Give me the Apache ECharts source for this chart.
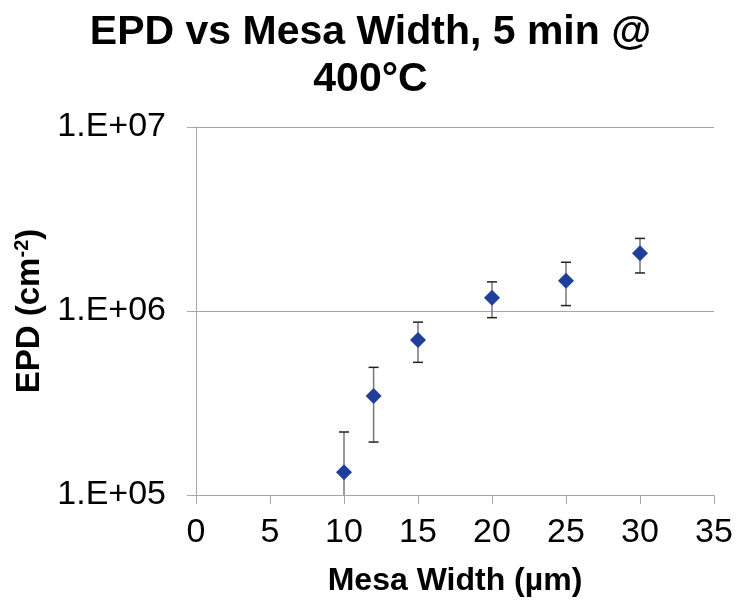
<!DOCTYPE html>
<html>
<head>
<meta charset="utf-8">
<script src="https://cdn.jsdelivr.net/npm/echarts@6/dist/echarts.min.js"></script>
<style>html,body{margin:0;padding:0;background:#fff}#c{width:741px;height:604px}</style>
</head>
<body>
<div id="c"></div>
<script>
const widths = [10, 12, 15, 20, 25, 30];
const epd = [1.33e5, 3.45e5, 6.95e5, 1.18e6, 1.46e6, 2.06e6];
const errLow = [4.6e4, 1.94e5, 5.26e5, 9.2e5, 1.07e6, 1.61e6];
const errHigh = [2.2e5, 4.94e5, 8.7e5, 1.44e6, 1.84e6, 2.48e6];
const xTicks = [0, 5, 10, 15, 20, 25, 30, 35];

const font = 'Liberation Sans, Arial, sans-serif';
const chart = echarts.init(document.getElementById('c'));
const errData = widths.map((w, i) => [w, errLow[i], errHigh[i]]);
const pts = widths.map((w, i) => [w, epd[i]]);

chart.setOption({
  animation: false,
  backgroundColor: '#fff',
  title: {
    text: 'EPD vs Mesa Width, 5 min @\n400°C',
    left: 'center', top: 4,
    textStyle: { fontFamily: font, fontSize: 41, fontWeight: 'bold', color: '#000', lineHeight: 47 }
  },
  grid: { left: 196, right: 27, top: 127, bottom: 109, containLabel: false },
  xAxis: {
    type: 'value', min: xTicks[0], max: xTicks[xTicks.length - 1], interval: 5,
    name: 'Mesa Width (µm)', nameLocation: 'middle', nameGap: 70,
    nameTextStyle: { fontFamily: font, fontSize: 32, fontWeight: 'bold', color: '#000' },
    axisLine: { show: true, lineStyle: { color: '#a6a6a6', width: 1 } },
    axisTick: { show: true, inside: false, length: 9, lineStyle: { color: '#a6a6a6' } },
    axisLabel: { fontFamily: font, fontSize: 34, color: '#000', margin: 21 },
    splitLine: { show: false }
  },
  yAxis: {
    type: 'log', logBase: 10, min: 1e5, max: 1e7,
    name: '{a|EPD (cm}{b|-2}{a|)}', nameLocation: 'middle', nameGap: 148,
    nameTextStyle: {
      rich: {
        a: { fontFamily: font, fontSize: 33, fontWeight: 'bold', color: '#000' },
        b: { fontFamily: font, fontSize: 20, fontWeight: 'bold', color: '#000', verticalAlign: 'top', padding: [0, 0, 14, 0] }
      }
    },
    axisLine: { show: true, lineStyle: { color: '#a6a6a6', width: 1 } },
    axisTick: { show: true, inside: false, length: 9, lineStyle: { color: '#a6a6a6' } },
    axisLabel: {
      fontFamily: font, fontSize: 34, color: '#000', margin: 30,
      formatter: v => '1.E+' + String(Math.round(Math.log10(v))).padStart(2, '0')
    },
    splitLine: { show: true, lineStyle: { color: '#a6a6a6', width: 1 } }
  },
  series: [
    {
      type: 'custom', clip: true, z: 1,
      data: errData,
      renderItem: function (params, api) {
        const x = api.value(0);
        const lo = api.coord([x, api.value(1)]);
        const hi = api.coord([x, api.value(2)]);
        const cw = 5;
        return {
          type: 'group',
          children: [
            { type: 'line', shape: { x1: lo[0], y1: lo[1], x2: hi[0], y2: hi[1] }, style: { stroke: '#777', lineWidth: 1.5 } },
            { type: 'line', shape: { x1: hi[0] - cw, y1: hi[1], x2: hi[0] + cw, y2: hi[1] }, style: { stroke: '#222', lineWidth: 1.5 } },
            { type: 'line', shape: { x1: lo[0] - cw, y1: lo[1], x2: lo[0] + cw, y2: lo[1] }, style: { stroke: '#222', lineWidth: 1.5 } }
          ]
        };
      }
    },
    {
      type: 'scatter', z: 3,
      symbol: 'diamond', symbolSize: [16, 16],
      itemStyle: { color: '#1f3f99', opacity: 1 },
      data: pts
    }
  ]
});
</script>
</body>
</html>
